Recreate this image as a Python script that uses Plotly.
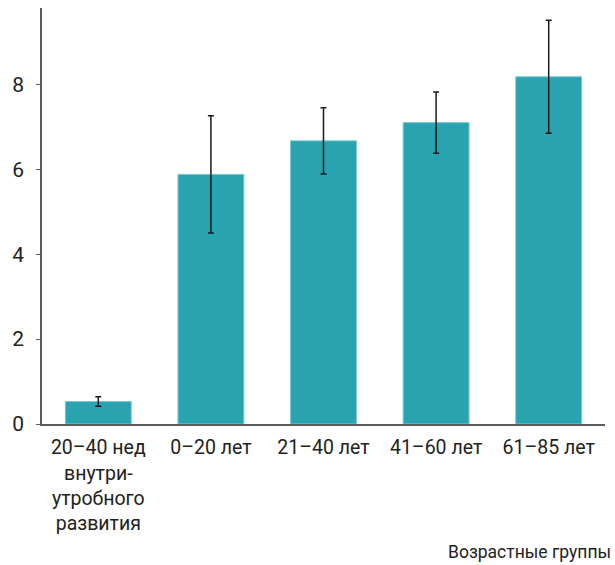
import plotly.graph_objects as go

categories = ["20–40 нед<br>внутри-<br>утробного<br>развития", "0–20 лет", "21–40 лет", "41–60 лет", "61–85 лет"]
values = [0.53, 5.88, 6.67, 7.10, 8.18]
errors = [0.11, 1.38, 0.78, 0.72, 1.33]
y_ticks = [0, 2, 4, 6, 8]
x_title = "Возрастные группы"

FONT = "Roboto"
TEXT = "#222222"
AXIS = "#5a5a5a"

fig = go.Figure(
    go.Bar(
        x=list(range(len(categories))),
        y=values,
        marker=dict(color="#29a3af", line=dict(color="#7cc8d0", width=1)),
        error_y=dict(type="data", array=errors, visible=True,
                     color="#1a1a1a", thickness=1.5, width=3),
        width=0.585,
    )
)

fig.update_layout(
    width=615, height=565,
    margin=dict(l=42, r=10, t=8, b=141),
    paper_bgcolor="white", plot_bgcolor="white",
    font=dict(family=FONT, size=19, color=TEXT),
    showlegend=False,
    xaxis=dict(
        range=[-0.5, 4.5],
        tickmode="array", tickvals=list(range(len(categories))), ticktext=categories,
        tickfont=dict(size=19.5),
        showgrid=False, zeroline=False,
        showline=True, linecolor=AXIS, linewidth=1.5,
        ticks="", ticklabelstandoff=5,
    ),
    yaxis=dict(
        range=[0, 9.8],
        tickmode="array", tickvals=y_ticks,
        tickfont=dict(size=21),
        showgrid=False, zeroline=False,
        showline=True, linecolor=AXIS, linewidth=1.5,
        ticks="outside", ticklen=4, tickcolor=AXIS, tickwidth=1,
        ticklabelstandoff=8,
    ),
    annotations=[dict(
        text=x_title, xref="paper", yref="paper",
        x=1.0, y=-0.0, xanchor="right", yanchor="middle",
        yshift=-128, xshift=8,
        showarrow=False, font=dict(family=FONT, size=17.5, color=TEXT),
    )],
)

fig.write_html("out.html")
